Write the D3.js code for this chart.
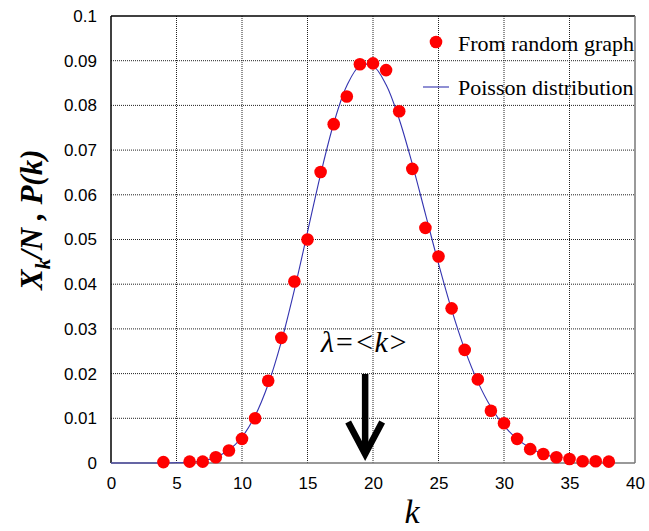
<!DOCTYPE html>
<html><head><meta charset="utf-8">
<script src="https://cdn.jsdelivr.net/npm/d3@7"></script>
<style>body{margin:0;background:#fff}svg{display:block}</style>
</head><body>
<script>
// Observed fractions X_k/N from the random graph
const graphK = [4,6,7,8,9,10,11,12,13,14,15,16,17,18,19,20,21,22,23,24,25,26,27,28,29,30,31,32,33,34,35,36,37,38];
const graphVals = [0.0002,0.0003,0.0003,0.0013,0.0028,0.0054,0.0100,0.0184,0.0280,0.0406,0.0500,0.0651,0.0758,0.0820,0.0892,0.0894,0.0879,0.0787,0.0658,0.0526,0.0462,0.0346,0.0253,0.0187,0.0117,0.0089,0.0054,0.0031,0.0020,0.0013,0.0009,0.0004,0.0004,0.0003];
// Poisson curve values read at integer k
const poissonK = [0,1,2,3,4,5,6,7,8,9,10,11,12,13,14,15,16,17,18,19,20,21,22,23,24,25,26,27,28,29,30,31,32,33,34];
const poissonVals = [0,0,0,0,0.00001,0.00005,0.00018,0.00052,0.00131,0.00291,0.00582,0.01058,0.01763,0.02712,0.03874,0.05165,0.06456,0.07595,0.08439,0.08884,0.08884,0.08461,0.07691,0.06688,0.05574,0.04459,0.03430,0.02541,0.01815,0.01252,0.00834,0.00538,0.00336,0.00204,0.00120];
const xTicks = [0,5,10,15,20,25,30,35,40];
const yTicks = [0,0.01,0.02,0.03,0.04,0.05,0.06,0.07,0.08,0.09,0.1];
const yTickLabels = ["0","0.01","0.02","0.03","0.04","0.05","0.06","0.07","0.08","0.09","0.1"];
const legendLabels = ["From random graph","Poisson distribution"];
const lambdaK = 19.4;

const W=649,H=531;
const m={l:111,t:16,r:14,b:68};
const iw=W-m.l-m.r, ih=H-m.t-m.b;
const svg=d3.select("body").append("svg").attr("width",W).attr("height",H);
const g=svg.append("g").attr("transform",`translate(${m.l},${m.t})`);
const x=d3.scaleLinear().domain([0,40]).range([0,iw]);
const y=d3.scaleLinear().domain([0,0.1]).range([ih,0]);

// grid
g.append("g").selectAll("line").data(xTicks.slice(1,-1)).join("line")
 .attr("x1",d=>x(d)).attr("x2",d=>x(d)).attr("y1",0).attr("y2",ih)
 .attr("stroke","#222").attr("stroke-width",1).attr("stroke-dasharray","1,1");
g.append("g").selectAll("line").data(yTicks.slice(1,-1)).join("line")
 .attr("y1",d=>y(d)).attr("y2",d=>y(d)).attr("x1",0).attr("x2",iw)
 .attr("stroke","#222").attr("stroke-width",1).attr("stroke-dasharray","1,1");

// axes
const xAxis=d3.axisBottom(x).tickValues(xTicks).tickSize(0).tickPadding(14).tickFormat(d3.format("d"));
const yAxis=d3.axisLeft(y).tickValues(yTicks).tickSize(0).tickPadding(14).tickFormat((d,i)=>yTickLabels[i]);
const gx=g.append("g").attr("transform",`translate(0,${ih})`).call(xAxis);
const gy=g.append("g").call(yAxis);
[gx,gy].forEach(a=>{a.select(".domain").remove();a.selectAll("text").attr("font-family","Liberation Sans, Arial, sans-serif").attr("font-size",17).attr("fill","#000");});

// frame
g.append("line").attr("x1",0).attr("x2",iw).attr("y1",0).attr("y2",0).attr("stroke","#000").attr("stroke-width",1.5);
g.append("line").attr("x1",0).attr("x2",0).attr("y1",0).attr("y2",ih).attr("stroke","#000").attr("stroke-width",1.5);
g.append("line").attr("x1",iw).attr("x2",iw).attr("y1",0).attr("y2",ih).attr("stroke","#777").attr("stroke-width",1.5);
g.append("line").attr("x1",0).attr("x2",iw).attr("y1",ih).attr("y2",ih).attr("stroke","#777").attr("stroke-width",1.5);

// poisson curve
const line=d3.line().x((d,i)=>x(poissonK[i])).y(d=>y(d)).curve(d3.curveCatmullRom);
g.append("path").attr("d",line(poissonVals)).attr("fill","none").attr("stroke","#3333b0").attr("stroke-width",1.1);

// points
g.append("g").selectAll("circle").data(graphVals).join("circle")
 .attr("cx",(d,i)=>x(graphK[i])).attr("cy",d=>y(d)).attr("r",6.3).attr("fill","#ff0000");

// legend
const lg=svg.append("g");
lg.append("circle").attr("cx",436).attr("cy",42).attr("r",6.3).attr("fill","#ff0000");
lg.append("line").attr("x1",423).attr("x2",449).attr("y1",87).attr("y2",87).attr("stroke","#3333b0").attr("stroke-width",1.1);
lg.selectAll("text").data(legendLabels).join("text")
 .attr("x",458).attr("y",(d,i)=>51+i*44).text(d=>d)
 .attr("font-family","Liberation Serif, Times New Roman, serif").attr("font-size",22).attr("fill","#000");

// lambda annotation
svg.append("text").attr("x",321).attr("y",352).attr("font-family","Liberation Serif, Times New Roman, serif")
 .attr("font-style","italic").attr("font-size",30).attr("fill","#000").text("λ=<k>");
const ax=x(lambdaK)+m.l;
svg.append("line").attr("x1",ax).attr("x2",ax).attr("y1",374).attr("y2",454).attr("stroke","#000").attr("stroke-width",6.5);
svg.append("path").attr("d",`M${ax-17},${422} L${ax},${454} L${ax+17},${422}`).attr("fill","none").attr("stroke","#000").attr("stroke-width",6.5).attr("stroke-linejoin","miter");

// axis labels
svg.append("text").attr("x",412).attr("y",523).attr("text-anchor","middle")
 .attr("font-family","Liberation Serif, Times New Roman, serif").attr("font-style","italic").attr("font-size",34).text("k");
const yl=svg.append("text").attr("transform","translate(42,290) rotate(-90)").attr("text-anchor","start")
 .attr("font-family","Liberation Serif, Times New Roman, serif").attr("font-style","italic").attr("font-weight","bold").attr("font-size",31);
yl.append("tspan").text("X");
yl.append("tspan").attr("dy",8).attr("font-size",21).text("k");
yl.append("tspan").attr("dy",-8).text("/N , P(k)");
</script>
</body></html>
